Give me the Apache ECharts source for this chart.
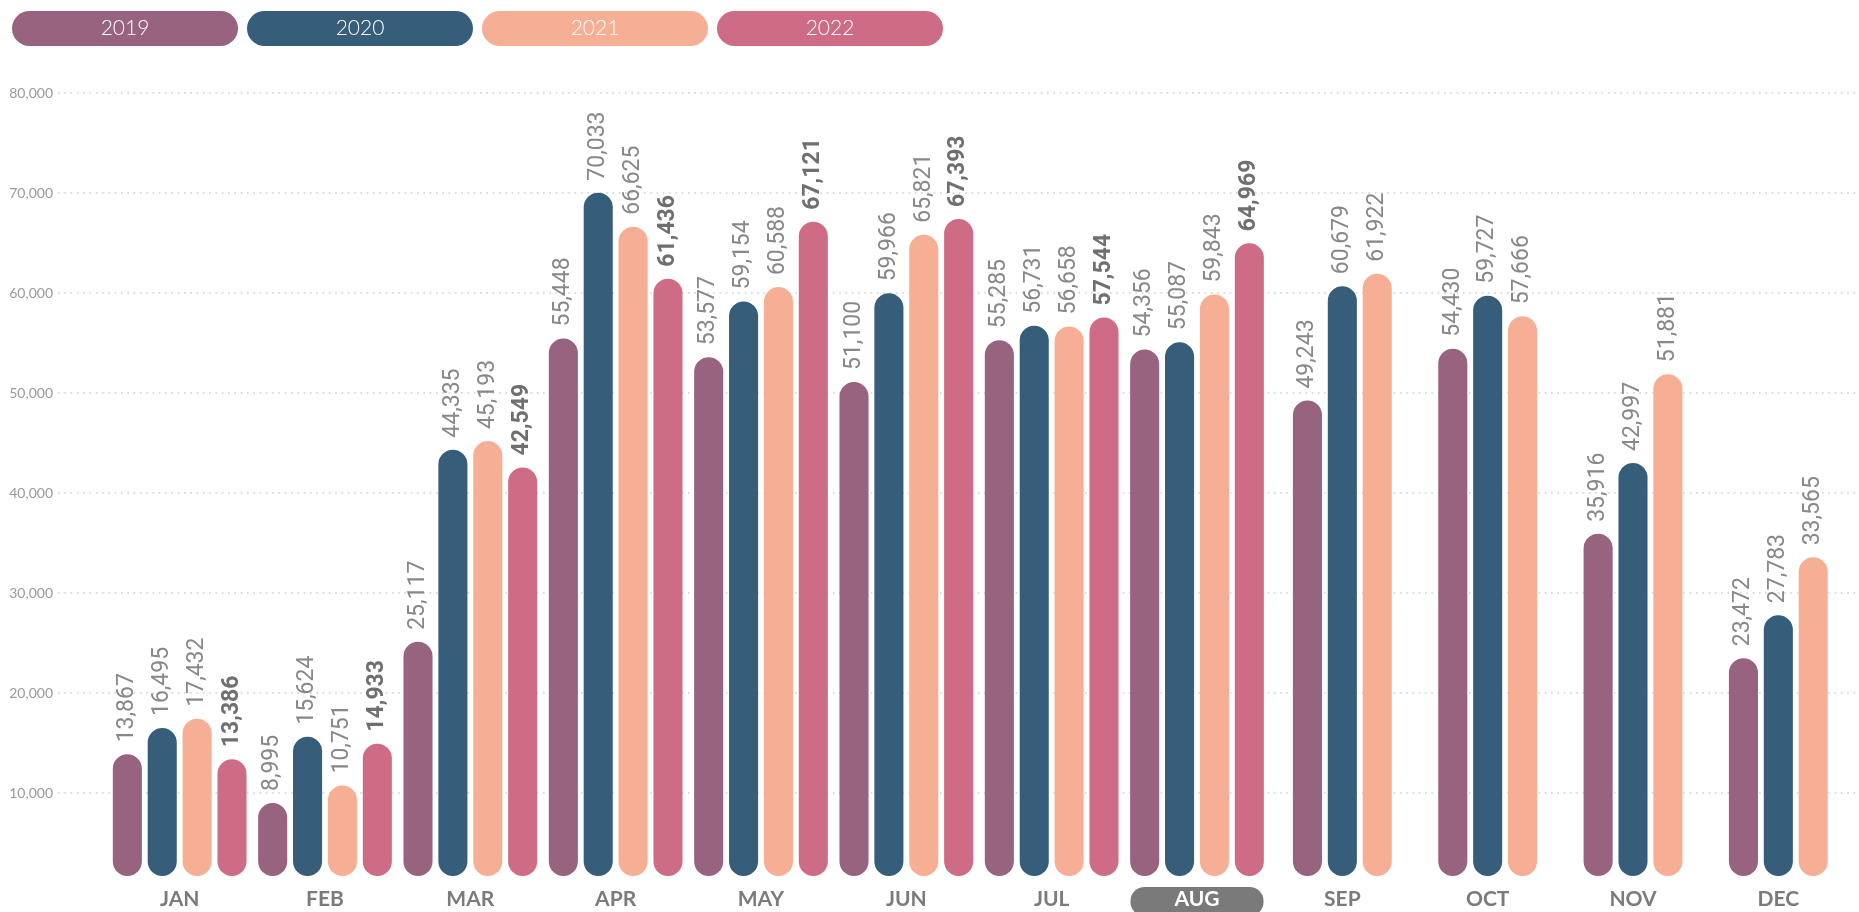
<!DOCTYPE html>
<html>
<head>
<meta charset="utf-8">
<title>Monthly totals 2019 - 2022</title>
<script src="https://cdn.jsdelivr.net/npm/echarts@6/dist/echarts.min.js"></script>
<style>
  html, body { margin: 0; padding: 0; background: #fff; }
  #chart { width: 1859px; height: 912px; }
</style>
</head>
<body>
<div id="chart"></div>
<script>
// categories
const months = ['JAN', 'FEB', 'MAR', 'APR', 'MAY', 'JUN', 'JUL', 'AUG', 'SEP', 'OCT', 'NOV', 'DEC'];
const years = ['2019', '2020', '2021', '2022'];
const selectedMonth = 'AUG';

// values per year (null = no data yet)
const data2019 = [13867, 8995, 25117, 55448, 53577, 51100, 55285, 54356, 49243, 54430, 35916, 23472];
const data2020 = [16495, 15624, 44335, 70033, 59154, 59966, 56731, 55087, 60679, 59727, 42997, 27783];
const data2021 = [17432, 10751, 45193, 66625, 60588, 65821, 56658, 59843, 61922, 57666, 51881, 33565];
const data2022 = [13386, 14933, 42549, 61436, 67121, 67393, 57544, 64969, null, null, null, null];

// y axis ticks
const yMax = 80000;
const yStep = 10000;

const colors = ['#97637f', '#365d7a', '#f6ae94', '#cf6c85'];
const yearData = [data2019, data2020, data2021, data2022];

const chart = echarts.init(document.getElementById('chart'));

// bars of one month are packed and centred on the month, missing years leave no gap
function barRenderer(yi) {
  return function (params, api) {
    const m = api.value(0);
    const v = api.value(1);
    const present = yearData.filter(d => d[m] != null).length;
    const slot = yearData.slice(0, yi).filter(d => d[m] != null).length;
    const band = api.size([1, 0])[0];
    const pitch = band * 0.24;
    const barW = band * 0.2;
    const base = api.coord([m, 0]);
    const top = api.coord([m, v])[1];
    const cx = base[0] + (slot - (present - 1) / 2) * pitch;
    const bottom = base[1] - 17;
    const bold = yi === 3;
    return {
      type: 'group',
      children: [
        {
          type: 'rect',
          shape: { x: cx - barW / 2, y: top, width: barW, height: bottom - top, r: barW / 2 },
          style: { fill: colors[yi] }
        },
        {
          type: 'text',
          x: cx,
          y: top - 12,
          rotation: Math.PI / 2,
          style: {
            text: v.toLocaleString('en-US'),
            align: 'left',
            verticalAlign: 'middle',
            fill: bold ? '#6f6f6f' : '#888888',
            fontFamily: '"Liberation Sans Narrow", Roboto, sans-serif',
            fontWeight: bold ? 'bold' : 'normal',
            fontSize: 23
          }
        }
      ]
    };
  };
}

const legendRich = {};
years.forEach((y, i) => {
  legendRich['y' + i] = {
    width: 226,
    height: 35,
    lineHeight: 35,
    align: 'center',
    backgroundColor: colors[i],
    borderRadius: 17.5,
    color: '#fff',
    fontSize: 21,
    fontFamily: 'Lato',
    fontWeight: 300
  };
});

const option = {
  animation: false,
  backgroundColor: '#fff',
  legend: {
    top: 6,
    left: 2,
    itemGap: 4,
    itemWidth: 0,
    itemHeight: 0,
    selectedMode: false,
    data: years,
    formatter: name => `{y${years.indexOf(name)}|${name}}`,
    textStyle: { rich: legendRich }
  },
  grid: [
    { left: 58, right: 0, top: 93, bottom: 19, outerBoundsMode: 'none' },
    { left: 107, right: 8, top: 93, bottom: 19, outerBoundsMode: 'none' }
  ],
  xAxis: [
    { gridIndex: 0, type: 'value', min: 0, max: 1, show: false },
    {
      gridIndex: 1,
      type: 'category',
      data: months,
      axisLine: { show: false },
      axisTick: { show: false },
      axisLabel: {
        margin: -6,
        formatter: v => v === selectedMonth ? `{hl|${v}}` : `{n|${v}}`,
        rich: {
          n: { color: '#7b7b7b', fontSize: 21, fontWeight: 'bold', fontFamily: 'Lato', padding: [2, 0, 4, 0] },
          hl: {
            color: '#fff', fontSize: 21, fontWeight: 'bold', fontFamily: 'Lato',
            backgroundColor: '#7a7a7a', borderRadius: 14, padding: [2, 44, 6, 44]
          }
        }
      }
    }
  ],
  yAxis: [
    {
      gridIndex: 0,
      type: 'value',
      min: 0,
      max: yMax,
      interval: yStep,
      axisLine: { show: false },
      axisTick: { show: false },
      axisLabel: {
        margin: 5,
        showMinLabel: false,
        color: '#9a9a9a',
        fontSize: 14,
        fontFamily: 'Lato',
        padding: [0, 0, 6, 0],
        formatter: v => v.toLocaleString('en-US')
      },
      splitLine: {
        showMinLine: false,
        lineStyle: { color: '#cfcfcf', width: 1.6, type: [1.6, 4.7] }
      }
    },
    { gridIndex: 1, type: 'value', min: 0, max: yMax, interval: yStep, show: false }
  ],
  series: years.map((y, yi) => ({
    name: y,
    type: 'custom',
    xAxisIndex: 1,
    yAxisIndex: 1,
    clip: false,
    itemStyle: { color: colors[yi] },
    renderItem: barRenderer(yi),
    encode: { x: 0, y: 1 },
    data: yearData[yi]
      .map((v, i) => (v == null ? null : [i, v]))
      .filter(d => d !== null)
  }))
};

chart.setOption(option);
</script>
</body>
</html>
